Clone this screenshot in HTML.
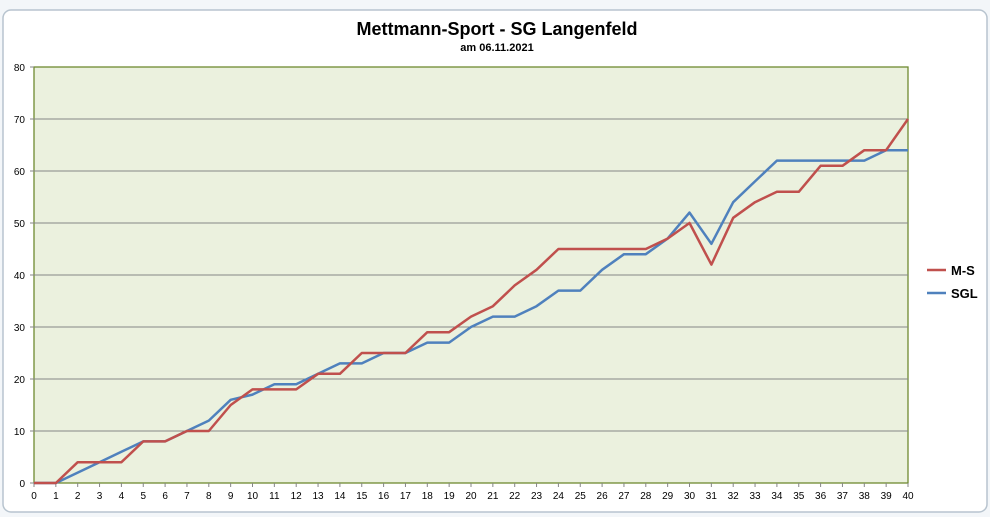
<!DOCTYPE html>
<html><head><meta charset="utf-8">
<style>
html,body{margin:0;padding:0;background:#fff;}
body{width:990px;height:517px;overflow:hidden;font-family:"Liberation Sans",sans-serif;}
</style></head>
<body>
<svg id="chart" width="990" height="517" xmlns="http://www.w3.org/2000/svg">
<rect x="0" y="0" width="990" height="517" fill="#f3f6f9"/>
<rect x="3" y="10" width="984" height="502" rx="8" fill="#fff" stroke="#b8c4cf" stroke-width="1.5"/>
<text x="497" y="35" text-anchor="middle" font-size="18" font-weight="bold" fill="#000">Mettmann-Sport - SG Langenfeld</text>
<text x="497" y="51" text-anchor="middle" font-size="11" font-weight="bold" fill="#000">am 06.11.2021</text>
<rect x="34" y="67" width="874" height="416" fill="#ebf1de" stroke="#6f8a30" stroke-width="1.3"/>
<g id="grid"></g><g id="axes"></g><g id="series"></g>
<g>
<line x1="927" y1="270" x2="946" y2="270" stroke="#c0504d" stroke-width="2.5"/>
<text x="951" y="275" font-size="13" font-weight="bold">M-S</text>
<line x1="927" y1="293" x2="946" y2="293" stroke="#4f81bd" stroke-width="2.5"/>
<text x="951" y="298" font-size="13" font-weight="bold">SGL</text>
</g>
</svg>
<script>
const categories = Array.from({length:41},(_, i)=>i);
const msValues = [0,0,4,4,4,8,8,10,10,15,18,18,18,21,21,25,25,25,29,29,32,34,38,41,45,45,45,45,45,47,50,42,51,54,56,56,61,61,64,64,70];
const sglValues = [0,0,2,4,6,8,8,10,12,16,17,19,19,21,23,23,25,25,27,27,30,32,32,34,37,37,41,44,44,47,52,46,54,58,62,62,62,62,62,64,64];
const yTicks = [0,10,20,30,40,50,60,70,80];

const NS="http://www.w3.org/2000/svg";
const X0=34,X1=908,Y0=483,Y1=67,YMAX=80;
function xPos(i){return X0+(X1-X0)*i/(categories.length-1);}
function yPos(v){return Y0-(Y0-Y1)*v/YMAX;}
function mk(tag,attrs){const e=document.createElementNS(NS,tag);for(const k in attrs)e.setAttribute(k,attrs[k]);return e;}
const grid=document.getElementById('grid'),axes=document.getElementById('axes'),series=document.getElementById('series');
yTicks.forEach(t=>{
  if(t>0&&t<YMAX){
    const l=mk('line',{x1:X0,x2:X1,y1:yPos(t),y2:yPos(t),stroke:'#868686','stroke-width':1});
    
    
    grid.appendChild(l);
  }
  const tx=mk('text',{x:25,y:yPos(t)+4,'text-anchor':'end','font-size':10,fill:'#000'});
  tx.textContent=t;
  
  
  axes.appendChild(tx);
  const tk=mk('line',{x1:X0-4,x2:X0,y1:yPos(t),y2:yPos(t),stroke:'#868686'});
  
  
  axes.appendChild(tk);
});
categories.forEach((c,i)=>{
  const tx=mk('text',{x:xPos(i),y:499,'text-anchor':'middle','font-size':10,fill:'#000'});
  tx.textContent=c;
  
  
  axes.appendChild(tx);
  const tk=mk('line',{x1:xPos(i),x2:xPos(i),y1:Y0,y2:Y0+4,stroke:'#868686'});
  
  
  axes.appendChild(tk);
});
function drawLine(vals,color,name){
  const pts=vals.map((v,i)=>xPos(i).toFixed(1)+','+yPos(v).toFixed(1)).join(' ');
  const p=mk('polyline',{points:pts,fill:'none',stroke:color,'stroke-width':2.5,'stroke-linejoin':'round'});
  
  
  series.appendChild(p);
}
drawLine(sglValues,'#4f81bd','series-sgl');
drawLine(msValues,'#c0504d','series-ms');
</script>
</body></html>
